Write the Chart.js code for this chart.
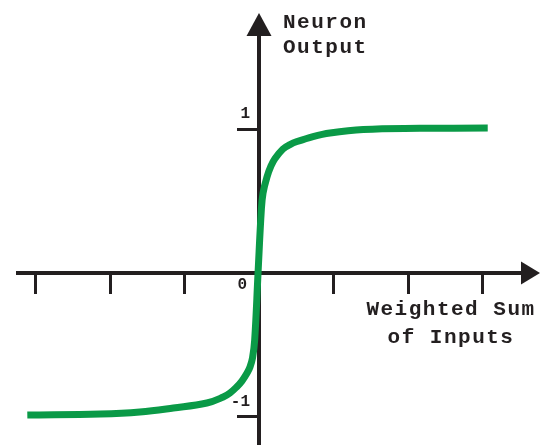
<!DOCTYPE html>
<html>
<head>
<meta charset="utf-8">
<style>
  html, body { margin: 0; padding: 0; background: #fff; }
  canvas { display: block; }
</style>
</head>
<body>
<canvas id="neuronOutput" width="542" height="445"></canvas>
<script src="https://cdn.jsdelivr.net/npm/chart.js@4"></script>
<script>
// Neuron output against the weighted sum of its inputs
const sumValues = [
    -3.11, -2.13, -1.6, -1.15, -0.7, -0.48, -0.39, -0.3, -0.23, -0.16, -0.121, -0.087, -0.058, -0.013,
    0.031, 0.054, 0.107, 0.161, 0.215, 0.322, 0.416, 0.51, 0.725, 0.953, 1.4, 2.16, 3.07
];
const outputValues = [
    -0.99, -0.983, -0.969, -0.941, -0.906, -0.864, -0.836, -0.794, -0.753, -0.697, -0.655, -0.592, -0.467, 0,
    0.439, 0.557, 0.669, 0.746, 0.798, 0.864, 0.895, 0.916, 0.951, 0.976, 1.0, 1.008, 1.01
];
const xTickValues = [-3, -2, -1, 1, 2, 3];
const yTickValues = [-1, 1];
const yTickLabels = ['-1', '1'];
const originLabel = '0';
const xTitle = ['Weighted Sum', 'of Inputs'];
const yTitle = ['Neuron', 'Output'];

const axisColor = '#231f20';
const curveColor = '#0a9a47';
const titleFont = 'bold 21px "Courier New", "Liberation Mono", monospace';
const tickFont = 'bold 16px "Courier New", "Liberation Mono", monospace';

const curveData = {
    datasets: [{
        label: 'Neuron output',
        data: sumValues.map((x, i) => ({x: x, y: outputValues[i]})),
        borderColor: curveColor,
        borderWidth: 7,
        pointRadius: 0,
        showLine: true,
        tension: 0.4,
        fill: false
    }]
};

// arrowheads, tick labels and axis titles
const axisDecorations = {
    id: 'axisDecorations',
    afterDraw(chart) {
        const {ctx, chartArea, scales: {x, y}} = chart;
        const x0 = x.getPixelForValue(0);
        const y0 = y.getPixelForValue(0);
        ctx.save();
        ctx.fillStyle = axisColor;

        ctx.beginPath();
        ctx.moveTo(x0, chartArea.top - 21);
        ctx.lineTo(x0 - 12.5, chartArea.top + 2);
        ctx.lineTo(x0 + 12.5, chartArea.top + 2);
        ctx.closePath();
        ctx.fill();

        ctx.beginPath();
        ctx.moveTo(chartArea.right + 18, y0);
        ctx.lineTo(chartArea.right - 1, y0 - 11.5);
        ctx.lineTo(chartArea.right - 1, y0 + 11.5);
        ctx.closePath();
        ctx.fill();

        ctx.font = tickFont;
        ctx.textAlign = 'right';
        ctx.textBaseline = 'alphabetic';
        ctx.fillText(originLabel, x0 - 12, y0 + 16);
        yTickValues.forEach((v, i) => {
            ctx.fillText(yTickLabels[i], x0 - 9, y.getPixelForValue(v) - 11);
        });

        ctx.font = titleFont;
        ctx.letterSpacing = '1.5px';
        ctx.textAlign = 'left';
        ctx.fillText(yTitle[0], x0 + 24, chartArea.top - 6);
        ctx.fillText(yTitle[1], x0 + 24, chartArea.top + 19);
        ctx.textAlign = 'center';
        ctx.fillText(xTitle[0], x0 + 192, y0 + 42);
        ctx.fillText(xTitle[1], x0 + 192, y0 + 70);
        ctx.restore();
    }
};

const curveConfig = {
    type: 'scatter',
    data: curveData,
    options: {
        responsive: false,
        animation: false,
        layout: {
            padding: {left: 18, right: 20, top: 34, bottom: 0}
        },
        plugins: {
            legend: {display: false},
            tooltip: {enabled: false}
        },
        scales: {
            x: {
                type: 'linear',
                min: -3.235,
                max: 3.53,
                position: {y: 0},
                afterBuildTicks: (scale) => {
                    scale.ticks = xTickValues.map(v => ({value: v}));
                },
                grid: {
                    drawOnChartArea: false,
                    drawTicks: true,
                    tickLength: 19,
                    tickWidth: 3,
                    tickColor: axisColor
                },
                border: {display: true, color: axisColor, width: 4},
                ticks: {display: false}
            },
            y: {
                type: 'linear',
                min: -1.1986,
                max: 1.6655,
                position: {x: 0},
                afterBuildTicks: (scale) => {
                    scale.ticks = yTickValues.map(v => ({value: v}));
                },
                grid: {
                    drawOnChartArea: false,
                    drawTicks: true,
                    tickLength: 20,
                    tickWidth: 3,
                    tickColor: axisColor
                },
                border: {display: true, color: axisColor, width: 4},
                ticks: {display: false}
            }
        }
    },
    plugins: [axisDecorations]
};

const neuronOutput = new Chart(
    document.getElementById('neuronOutput'),
    curveConfig
);
</script>
</body>
</html>
